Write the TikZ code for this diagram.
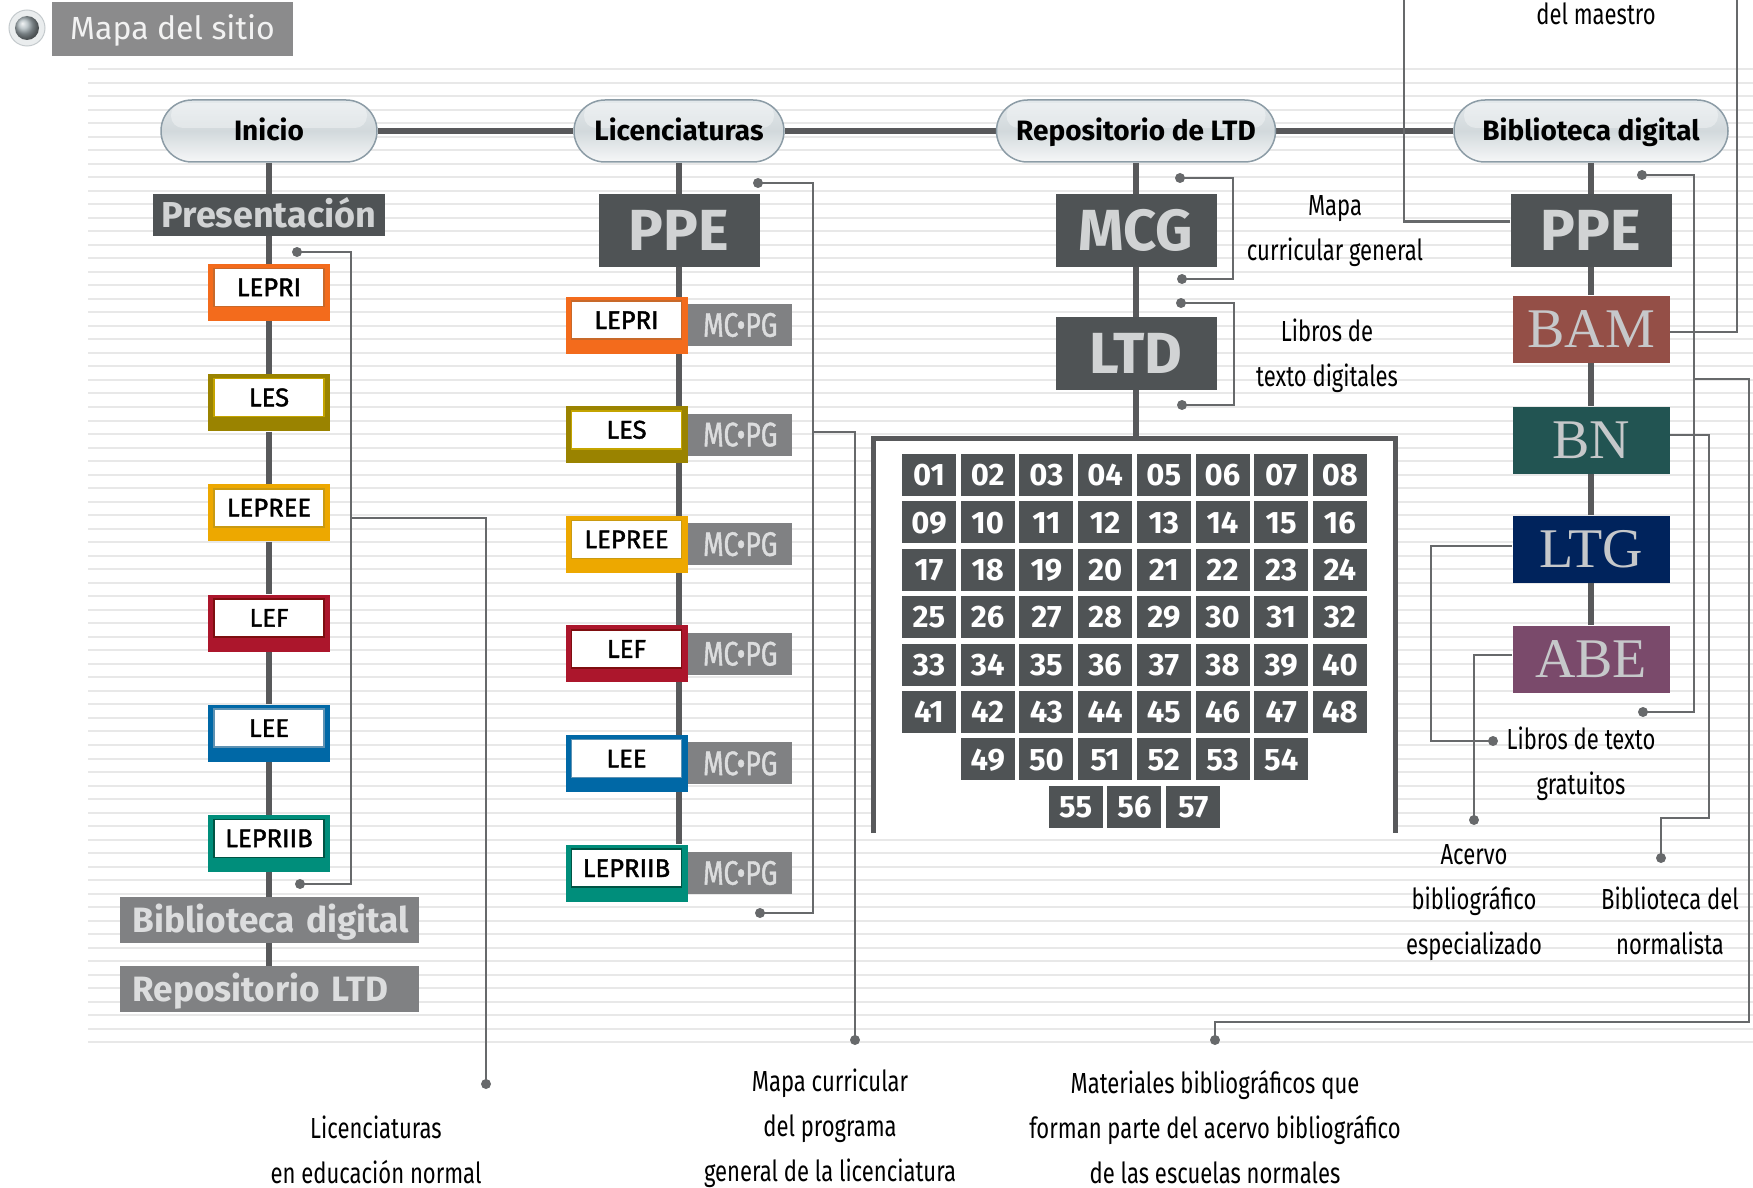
\documentclass[tikz,border=0pt]{standalone}
\usepackage{fontspec}
\setmainfont{Fira Sans}
\newfontfamily\narrowfont[FakeStretch=0.76]{Fira Sans}
\newfontfamily\narrowmedfont[FakeStretch=0.78,FakeBold=1.2]{Fira Sans}
\newfontfamily\medfont[FakeBold=1.6]{Fira Sans}
\newfontfamily\capsfont{Liberation Serif}
\usetikzlibrary{positioning,calc}
\newcommand{\pxu}{0.5pt}
\definecolor{stripegray}{HTML}{E8E8E8}
\definecolor{trunkgray}{HTML}{58595B}
\definecolor{linkgray}{HTML}{67696B}
\definecolor{boxdark}{HTML}{4F5355}
\definecolor{boxmid}{HTML}{808183}
\definecolor{boxtext}{HTML}{D1D3D4}
\definecolor{greytext}{HTML}{DCDDDE}
\definecolor{titlegray}{HTML}{8B8B8C}
\definecolor{pillrim}{HTML}{8C9CA6}
\definecolor{pilltop}{HTML}{E3E8EB}
\definecolor{pillmid}{HTML}{D2D9DC}
\definecolor{pillbot}{HTML}{F6F7F8}
\definecolor{ringgray}{HTML}{EAEDEE}
\definecolor{ringedge}{HTML}{C4CACD}
\definecolor{ballgray}{HTML}{A9B5BA}
\definecolor{capgray}{HTML}{C6C8CA}
% licenciaturas: outer frame and inner rule
\definecolor{lepri}{HTML}{F36B1C}   \definecolor{innerlepri}{HTML}{C8692A}
\definecolor{les}{HTML}{9A8300}     \definecolor{innerles}{HTML}{C4A400}
\definecolor{lepree}{HTML}{EDA800}  \definecolor{innerlepree}{HTML}{C99A12}
\definecolor{lef}{HTML}{AC162C}     \definecolor{innerlef}{HTML}{7E0E10}
\definecolor{lee}{HTML}{0068A6}     \definecolor{innerlee}{HTML}{5E92B3}
\definecolor{lepriib}{HTML}{008E7B} \definecolor{innerlepriib}{HTML}{005444}
% biblioteca digital
\definecolor{bamred}{HTML}{944F47}
\definecolor{bngreen}{HTML}{225452}
\definecolor{ltgblue}{HTML}{00235C}
\definecolor{abeviolet}{HTML}{7A4A6B}
\pgfdeclarelayer{stripes}
\pgfdeclarelayer{wires}
\pgfsetlayers{stripes,wires,main}

\begin{document}
\begin{tikzpicture}[x=0.5pt,y=-0.5pt,
  bgline/.style={stripegray,line width=1pt},
  trunk/.style={trunkgray,line width=3pt},
  link/.style={linkgray,line width=1.3pt},
  gridframe/.style={trunkgray,line width=2.5pt},
  pill/.style={draw=pillrim,line width=0.75pt,rounded corners=15.5pt,
    top color=pilltop,bottom color=pillbot,middle color=pillmid,
    minimum height=62*\pxu,inner sep=0pt,text height=9.6pt,text depth=0pt,
    font=\bfseries\fontsize{14}{14}\selectfont,
    path picture={\fill[white,opacity=.35,rounded corners=6pt]
      ([shift={(5pt,-1.5pt)}]path picture bounding box.north west) rectangle
      ([shift={(-5pt,-14pt)}]path picture bounding box.north east);}},
  titlebox/.style={fill=titlegray,text=white!95!black,inner sep=0pt,
    minimum width=241*\pxu,minimum height=54*\pxu,text height=11pt,text depth=0pt,
    font=\fontsize{16}{16}\selectfont},
  darkbox/.style={fill=boxdark,text=boxtext,inner sep=0pt,
    minimum width=161*\pxu,minimum height=73*\pxu,text height=19.9pt,text depth=0pt,
    font=\bfseries\fontsize{29}{29}\selectfont},
  greybox/.style={fill=boxmid,text=greytext,inner ysep=0pt,inner xsep=13*\pxu,
    text width=273*\pxu,minimum height=46*\pxu,align=left,text height=12.1pt,
    text depth=0pt,font=\bfseries\fontsize{17.6}{17.6}\selectfont},
  cbox/.style={fill=#1,inner sep=0pt,minimum width=122*\pxu,minimum height=57*\pxu},
  cin/.style={fill=white,draw=#1,line width=0.8pt,inner sep=0pt,
    minimum width=110*\pxu,minimum height=38*\pxu,text height=8.8pt,text depth=0pt,
    font=\medfont\fontsize{12.8}{12.8}\selectfont},
  mcpg/.style={fill=boxmid,text=greytext,inner sep=0pt,minimum width=104*\pxu,
    minimum height=42*\pxu,text height=11.7pt,text depth=0pt,
    font=\narrowmedfont\fontsize{17}{17}\selectfont},
  libbox/.style={fill=#1,text=capgray,inner sep=0pt,minimum width=157*\pxu,
    minimum height=67*\pxu,text height=18.5pt,text depth=0pt,
    font=\capsfont\fontsize{28}{28}\selectfont},
  cell/.style={fill=boxdark,text=white,inner sep=0pt,minimum width=54*\pxu,
    minimum height=42*\pxu,text height=10.7pt,text depth=0pt,
    font=\bfseries\fontsize{15.5}{15.5}\selectfont},
  annot/.style={align=center,font=\narrowfont\fontsize{14.5}{22.5}\selectfont}
]
\useasboundingbox (0,0) rectangle (1753,1188);

% ruled background
\begin{pgfonlayer}{stripes}
\foreach \i in {0,...,72}
  \draw[bgline] (88,69+13.52*\i) -- (1753,69+13.52*\i);
\end{pgfonlayer}

% title
\fill[ringgray] (27,28) circle (18);
\draw[ringedge,line width=0.5pt] (27,28) circle (18);
\shade[ball color=ballgray] (27,28) circle (12);
\node[titlebox] (title) at (172.5,29) {Mapa del sitio};

% main menu
\node[pill,minimum width=216*\pxu] (inicio) at (269,131) {Inicio};
\node[pill,minimum width=210*\pxu] (lic) at (679,131) {Licenciaturas};
\node[pill,minimum width=279*\pxu] (repo) at (1136,131) {Repositorio de LTD};
\node[pill,minimum width=274*\pxu] (bib) at (1591,131) {Biblioteca digital};

% column 1: Inicio
\node[darkbox,minimum width=232*\pxu,minimum height=42*\pxu,text height=12.4pt,
  font=\bfseries\fontsize{18}{18}\selectfont] (pres) at (269,215) {Presentación};
\foreach \nm/\lab [count=\k from 0] in {lepri/LEPRI,les/LES,lepree/LEPREE,lef/LEF,lee/LEE,lepriib/LEPRIIB}{
  \node[cbox=\nm] (\nm1) at (269,292.5+110.2*\k) {};
  \node[cin=inner\nm] (t\nm1) at ([yshift=2.6pt]\nm1.center) {\lab};
}
\node[greybox] (bibd1) at (269,920) {\mbox{Biblioteca digital}};
\node[greybox] (repo1) at (269,989) {\mbox{Repositorio LTD}};

% column 2: Licenciaturas
\node[darkbox] (ppe2) at (679,230.5) {PPE};
\foreach \nm/\lab [count=\k from 0] in {lepri/LEPRI,les/LES,lepree/LEPREE,lef/LEF,lee/LEE,lepriib/LEPRIIB}{
  \node[cbox=\nm] (\nm2) at (626.5,325+109.6*\k) {};
  \node[cin=inner\nm] (t\nm2) at ([yshift=2.4pt]\nm2.center) {\lab};
  \node[mcpg,anchor=west] (mc\nm) at (\nm2.east) {MC•PG};
}

% column 3: Repositorio de LTD
\node[darkbox] (mcg) at (1136,230.5) {MCG};
\node[darkbox] (ltd) at (1136,353.5) {LTD};
\coordinate (gtop) at (1136,438);
\coordinate (gl) at (873,833);
\coordinate (gr) at (1395,833);
\begin{pgfonlayer}{stripes}
  \fill[white] (gl |- gtop) rectangle (gr);
\end{pgfonlayer}
\foreach \n in {1,...,48}{
  \pgfmathtruncatemacro{\gc}{mod(\n-1,8)}
  \pgfmathtruncatemacro{\gr}{(\n-1)/8}
  \node[cell] (n\n) at (929+58.7*\gc,475+47.4*\gr) {\ifnum\n<10 0\fi\n};
}
\foreach \n [count=\k] in {49,...,54}
  \node[cell] (n\n) at (929+58.7*\k,475+47.4*6) {\n};
\foreach \n [count=\k from 2] in {55,56,57}
  \node[cell] (n\n) at (958.35+58.7*\k,475+47.4*7) {\n};

% column 4: Biblioteca digital
\node[darkbox] (ppe4) at (1591,230.5) {PPE};
\node[libbox=bamred] (bam) at (1591,329) {BAM};
\node[libbox=bngreen] (bn) at (1591,440) {BN};
\node[libbox=ltgblue] (ltg) at (1591,549) {LTG};
\node[libbox=abeviolet] (abe) at (1591,659) {ABE};

% notes
\node[annot] (tmcg) at (1335,231) {Mapa\\curricular general};
\node[annot] (tltd) at (1327,356) {Libros de\\texto digitales};
\node[annot] (tltg) at (1581,764) {Libros de texto\\gratuitos};
\node[annot] (tabe) at (1474,903) {Acervo\\bibliográfico\\especializado};
\node[annot] (tbn) at (1670,921) {Biblioteca del\\normalista};
\node[annot] (tbam) at (1596,14) {del maestro};
\node[annot] (tlic) at (376,1150) {Licenciaturas\\en educación normal};
\node[annot] (tmc) at (830,1128) {Mapa curricular\\del programa\\general de la licenciatura};
\node[annot] (tmat) at (1215,1127) {Materiales bibliográficos que\\forman parte del acervo bibliográfico\\de las escuelas normales};

% free ends of the callouts
\coordinate (c1a) at (297,252);  \coordinate (c1b) at (300,884);
\coordinate (c1x) at (351,518);  \coordinate (c1end) at (486,1084);
\coordinate (c2a) at (758,183);  \coordinate (c2b) at (760,913);
\coordinate (c2x) at (813,432);  \coordinate (c2end) at (855,1040);
\coordinate (c3a) at (1180,178); \coordinate (c3b) at (1182,279);
\coordinate (c3c) at (1181,303); \coordinate (c3d) at (1182,405);
\coordinate (c4a) at (1642,175); \coordinate (c4b) at (1643,712);
\coordinate (c4x) at (1694,379); \coordinate (c4far) at (1749,1022);
\coordinate (c4end) at (1215,1040);
\coordinate (topa) at (1404,-2); \coordinate (topb) at (1737,-2);
\coordinate (bnturn) at (1709,818); \coordinate (bnend) at (1661,858);
\coordinate (ltgturn) at (1431,741); \coordinate (ltgend) at (1493,741);
\coordinate (abeend) at (1474,820);

\begin{pgfonlayer}{wires}
% trunks
\draw[trunk] (inicio) -- (lic) -- (repo) -- (bib);
\draw[trunk] (inicio) -- (pres) -- (lepri1) -- (les1) -- (lepree1) -- (lef1)
  -- (lee1) -- (lepriib1) -- (bibd1) -- (repo1);
\draw[trunk] (lic) -- (ppe2) -- (ppe2 |- lepriib2.north);
\draw[trunk] (repo) -- (mcg) -- (ltd) -- (gtop);
\draw[gridframe] (gl) -- (gl |- gtop) -- (gr |- gtop) -- (gr);
\draw[trunk] (bib) -- (ppe4) -- (bam) -- (bn) -- (ltg) -- (abe);
% callouts
\draw[link] (c1a) -| (c1b -| c1x) -- (c1b);
\draw[link] (c1x) -| (c1end);
\draw[link] (c2a) -| (c2b -| c2x) -- (c2b);
\draw[link] (c2x) -| (c2end);
\draw[link] (c3a) -| ($(c3b)+(51,0)$) -- (c3b);
\draw[link] (c3c) -| ($(c3d)+(52,0)$) -- (c3d);
\draw[link] (c4a) -| (c4b -| c4x) -- (c4b);
\draw[link] (c4x) -| (c4far) -| (c4end);
\draw[link] ([yshift=4.5pt]ppe4.west) -| (topa);
\draw[link] ([yshift=-1.5pt]bam.east) -| (topb);
\draw[link] ([yshift=2.5pt]bn.east) -| (bnturn) -| (bnend);
\draw[link] ([yshift=1.5pt]ltg.west) -| (ltgturn) -- (ltgend);
\draw[link] ([yshift=2pt]abe.west) -| (abeend);
\foreach \p in {c1a,c1b,c1end,c2a,c2b,c2end,c3a,c3b,c3c,c3d,c4a,c4b,c4end,bnend,ltgend,abeend}
  \fill[linkgray] (\p) circle (5);
\end{pgfonlayer}
\end{tikzpicture}
\end{document}
